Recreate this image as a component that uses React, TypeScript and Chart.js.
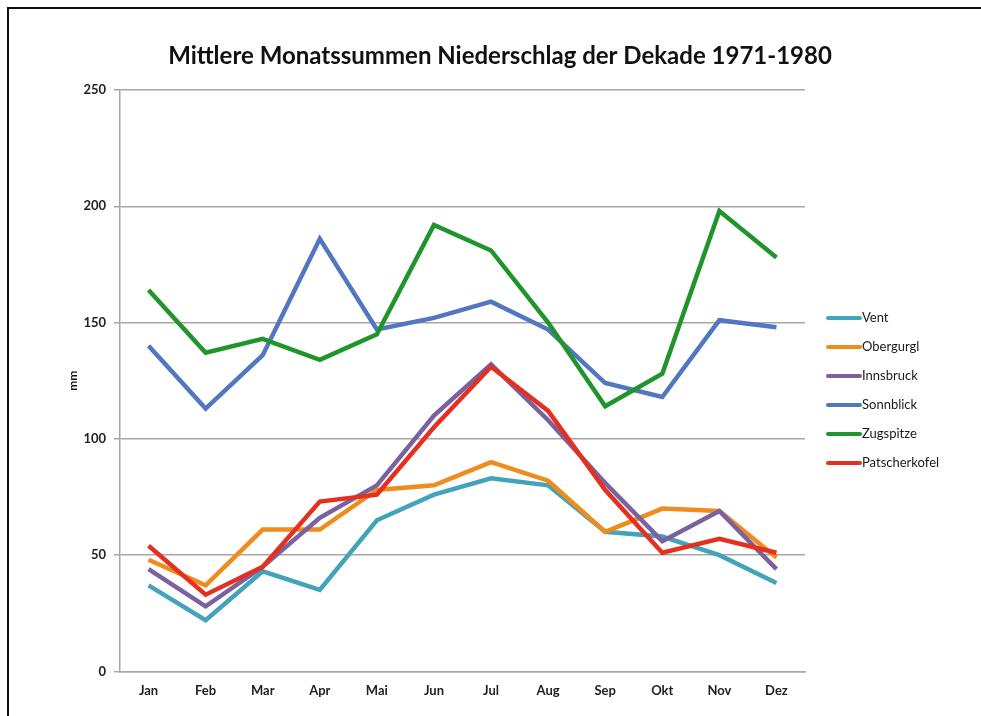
import React, { useEffect, useRef } from "react";
import { Chart, registerables } from "chart.js";

Chart.register(...registerables);

const months = ["Jan", "Feb", "Mar", "Apr", "Mai", "Jun", "Jul", "Aug", "Sep", "Okt", "Nov", "Dez"];
const stations = ["Vent", "Obergurgl", "Innsbruck", "Sonnblick", "Zugspitze", "Patscherkofel"];
const colors = ["#43a3b9", "#f08c1e", "#7a62a0", "#5077bf", "#20952c", "#e5301f"];

const vent = [37, 22, 43, 35, 65, 76, 83, 80, 60, 58, 50, 38];
const obergurgl = [48, 37, 61, 61, 78, 80, 90, 82, 60, 70, 69, 49];
const innsbruck = [44, 28, 45, 66, 80, 110, 132, 108, 81, 56, 69, 44];
const sonnblick = [140, 113, 136, 186, 147, 152, 159, 147, 124, 118, 151, 148];
const zugspitze = [164, 137, 143, 134, 145, 192, 181, 150, 114, 128, 198, 178];
const patscherkofel = [54, 33, 45, 73, 76, 105, 131, 112, 78, 51, 57, 51];

const seriesValues = [vent, obergurgl, innsbruck, sonnblick, zugspitze, patscherkofel];

const titleText = "Mittlere Monatssummen Niederschlag der Dekade 1971-1980";
const yTitle = "mm";

const FONT = "Lato, 'Open Sans', sans-serif";

const titleLegendPlugin = {
  id: "titleLegend",
  afterDraw(chart: any) {
    const ctx = chart.ctx;
    ctx.save();
    // title
    ctx.fillStyle = "#111";
    ctx.font = `bold 24px ${FONT}`;
    ctx.textAlign = "center";
    ctx.textBaseline = "middle";
    ctx.fillText(titleText, 500, 56);
    // legend
    const area = chart.chartArea;
    const x0 = area.right + 23;
    const lineLen = 32;
    const y0 = 318;
    const step = 29;
    chart.data.datasets.forEach((ds: any, i: number) => {
      const y = y0 + i * step;
      ctx.strokeStyle = ds.borderColor;
      ctx.lineWidth = 4;
      ctx.lineCap = "round";
      ctx.beginPath();
      ctx.moveTo(x0, y);
      ctx.lineTo(x0 + lineLen, y);
      ctx.stroke();
      ctx.fillStyle = "#1a1a1a";
      ctx.font = `13px ${FONT}`;
      ctx.textAlign = "left";
      ctx.textBaseline = "middle";
      ctx.fillText(ds.label, x0 + lineLen + 2, y);
    });
    ctx.restore();
  },
};

export default function App() {
  const ref = useRef<HTMLCanvasElement | null>(null);

  useEffect(() => {
    if (!ref.current) return;
    const n = stations.length;
    const chart = new Chart(ref.current, {
      type: "line",
      data: {
        labels: months,
        datasets: stations.map((s, i) => ({
          label: s,
          data: seriesValues[i],
          borderColor: colors[i],
          backgroundColor: colors[i],
          borderWidth: 4.5,
          pointRadius: 0,
          tension: 0,
          fill: false,
          order: n - 1 - i,
        })),
      },
      options: {
        responsive: false,
        animation: false,
        layout: { padding: { top: 90, right: 176, bottom: 5, left: 0 } },
        plugins: {
          legend: { display: false },
          title: { display: false },
          tooltip: { enabled: false },
        },
        scales: {
          x: {
            offset: true,
            grid: { display: false, drawTicks: false },
            border: { display: true, color: "#aaa5a1", width: 1.5 },
            ticks: {
              padding: 12,
              color: "#222",
              font: { family: FONT, size: 13, weight: "bold" },
            },
          },
          y: {
            min: 0,
            max: 250,
            ticks: {
              stepSize: 50,
              padding: 8,
              color: "#222",
              font: { family: FONT, size: 13, weight: "bold" },
            },
            grid: { color: "#aaa5a1", lineWidth: 1.5, tickLength: 6 },
            border: { display: true, color: "#aaa5a1", width: 1.5 },
            title: {
              display: true,
              text: yTitle,
              color: "#111",
              font: { family: FONT, size: 12, weight: "bold" },
              padding: { top: 66, bottom: 0 },
            },
            afterFit: (s: any) => {
              s.width = 120;
            },
          },
        },
      },
      plugins: [titleLegendPlugin],
    });
    return () => chart.destroy();
  }, []);

  return (
    <div style={{ position: "absolute", left: 0, top: 0, width: 981, height: 716, background: "#fff", overflow: "hidden" }}>
      <canvas ref={ref} width={981} height={716} style={{ position: "absolute", left: 0, top: 0 }} />
      <div
        style={{
          position: "absolute",
          left: 7,
          top: 7,
          right: -10,
          bottom: -10,
          borderLeft: "2px solid #111",
          borderTop: "2px solid #111",
          pointerEvents: "none",
        }}
      />
    </div>
  );
}
